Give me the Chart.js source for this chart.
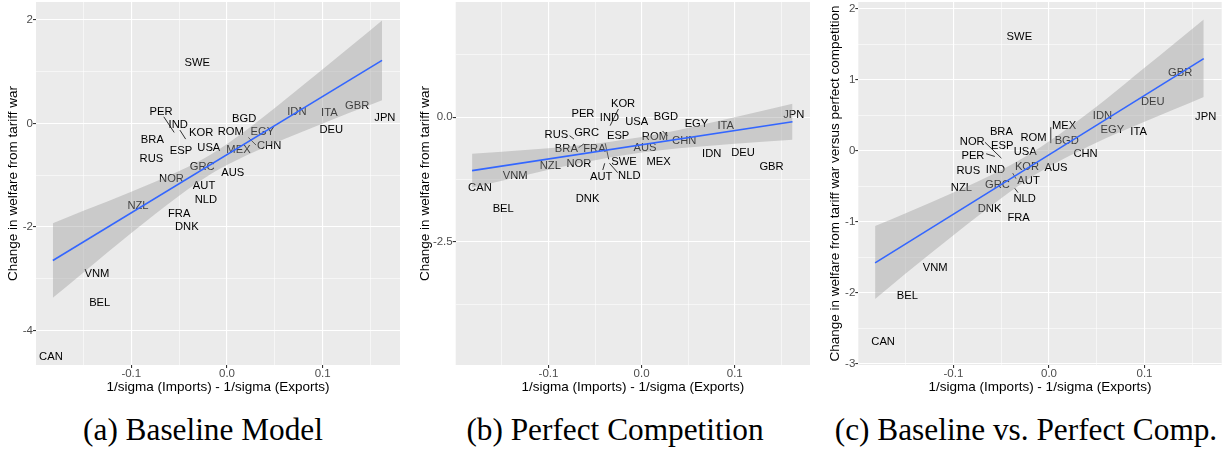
<!DOCTYPE html>
<html><head><meta charset="utf-8">
<script src="https://cdn.jsdelivr.net/npm/chart.js@4/dist/chart.umd.min.js"></script>
<style>
html,body{margin:0;padding:0;background:#fff;width:1231px;height:449px;overflow:hidden;}
.panel{position:absolute;top:0;height:400px;}
.cap{position:absolute;top:414px;font-family:'Liberation Serif','Times New Roman',serif;font-size:31.3px;line-height:31px;color:#000;white-space:nowrap;transform:translateX(-50%);}
</style></head><body>
<div class="panel" style="left:0;width:405px"><canvas id="cA"></canvas></div>
<div class="panel" style="left:410px;width:405px"><canvas id="cB"></canvas></div>
<div class="panel" style="left:815px;width:416px"><canvas id="cC"></canvas></div>
<div class="cap" style="left:203px">(a) Baseline Model</div>
<div class="cap" style="left:615px">(b) Perfect Competition</div>
<div class="cap" style="left:1026px">(c) Baseline vs. Perfect Comp.</div>
<script>
// ---------- data ----------
const countries = ["AUS","AUT","BEL","BGD","BRA","CAN","CHN","DEU","DNK","EGY","ESP","FRA","GBR","GRC","IDN","IND","ITA","JPN","KOR","MEX","NLD","NOR","NZL","PER","ROM","RUS","SWE","USA","VNM"];

// label positions (panel a: baseline)
const labelXA = [0.006,-0.024,-0.133,0.018,-0.078,-0.184,0.044,0.109,-0.042,0.037,-0.048,-0.050,0.136,-0.026,0.073,-0.051,0.107,0.165,-0.027,0.012,-0.022,-0.058,-0.093,-0.069,0.004,-0.079,-0.031,-0.019,-0.136];
const labelYA = [-0.947,-1.205,-3.478,0.097,-0.323,-4.516,-0.44,-0.124,-2.01,-0.168,-0.529,-1.747,0.34,-0.85,0.224,-0.03,0.20,0.108,-0.174,-0.516,-1.469,-1.076,-1.585,0.22,-0.168,-0.69,1.165,-0.47,-2.906];
// panel b: perfect competition
const labelXB = [0.0036,-0.0434,-0.1486,0.0261,-0.0808,-0.1736,0.0457,0.1088,-0.058,0.0589,-0.0252,-0.0506,0.1395,-0.0591,0.0753,-0.0345,0.0903,0.1633,-0.0199,0.0182,-0.0132,-0.0674,-0.098,-0.063,0.0143,-0.0915,-0.0188,-0.0053,-0.1358];
const labelYB = [-0.609,-1.203,-1.844,0.0,-0.642,-1.423,-0.469,-0.716,-1.639,-0.14,-0.368,-0.642,-1.002,-0.32,-0.73,-0.02,-0.174,0.04,0.26,-0.896,-1.177,-0.936,-0.97,0.06,-0.389,-0.355,-0.89,-0.094,-1.183];
// panel c: baseline vs perfect competition
const labelXC = [0.0074,-0.0214,-0.1483,0.0186,-0.0498,-0.1736,0.0383,0.1087,-0.0622,0.0664,-0.049,-0.0318,0.1374,-0.054,0.056,-0.056,0.0938,0.164,-0.023,0.0158,-0.0255,-0.0803,-0.0917,-0.0796,-0.0162,-0.0844,-0.031,-0.0248,-0.1191];
const labelYC = [-0.239,-0.428,-2.05,0.141,0.272,-2.693,-0.048,0.694,-0.816,0.30,0.065,-0.943,1.102,-0.488,0.497,-0.263,0.262,0.483,-0.23,0.356,-0.675,0.131,-0.521,-0.066,0.177,-0.287,1.611,-0.02,-1.646];

// label leader segments [x1, y1, x2, y2]
const leadersA = [[-0.066,0.128,-0.0552,-0.174],[-0.0492,-0.129,-0.0432,-0.303],[0.0223,-0.271,0.0304,-0.419]];
const leadersB = [[-0.0249,0.166,-0.0338,-0.168],[-0.0773,-0.369,-0.0727,-0.435],[-0.0677,-0.609,-0.062,-0.535],[-0.0391,-0.521,-0.0353,-0.842],[-0.0396,-0.922,-0.0417,-1.056],[-0.0345,-0.922,-0.0257,-1.110],[0.0225,-0.275,0.0278,-0.375]];
const leadersC = [[-0.0671,0.121,-0.0498,-0.104],[-0.0657,-0.042,-0.0567,-0.080],[-0.038,-0.315,-0.0345,-0.394],[-0.0359,-0.528,-0.0324,-0.59],[0.0019,0.332,0.0019,0.107]];

// linear fit and confidence band
const fitX = [-0.182, 0.162];
const fitYA = [-2.65, 1.22];
const fitYB = [-1.07, -0.09];
const fitYC = [-1.58, 1.30];
const bandX = [-0.182,-0.15,-0.1,-0.05,-0.016,0.02,0.06,0.1,0.13,0.162];
const bandUpperA = [-1.93,-1.69,-1.32,-0.92,-0.59,-0.13,0.45,1.05,1.50,1.99];
const bandLowerA = [-3.37,-2.88,-2.12,-1.40,-0.97,-0.62,-0.30,0.00,0.22,0.45];
const bandUpperB = [-0.73,-0.69,-0.62,-0.53,-0.44,-0.33,-0.17,0.00,0.13,0.27];
const bandLowerB = [-1.41,-1.27,-1.05,-0.86,-0.75,-0.66,-0.59,-0.53,-0.49,-0.45];
const bandUpperC = [-1.06,-0.88,-0.59,-0.27,-0.01,0.32,0.73,1.17,1.50,1.85];
const bandLowerC = [-2.09,-1.73,-1.19,-0.67,-0.35,-0.08,0.18,0.41,0.58,0.76];

// ticks
const xTickValues = [-0.15,-0.1,-0.05,0,0.05,0.1,0.15];
const xTickLabels = ['','-0.1','','0.0','','0.1',''];
const yTickValuesA = [-4,-3,-2,-1,0,1,2];
const yTickLabelsA = ['-4','','-2','','0','','2'];
const yTickValuesB = [-3.75,-2.5,-1.25,0,1.25];
const yTickLabelsB = ['','-2.5','','0.0',''];
const yTickValuesC = [-3,-2.5,-2,-1.5,-1,-0.5,0,0.5,1,1.5,2];
const yTickLabelsC = ['-3','','-2','','-1','','0','','1','','2'];

const xRange = [-0.1996, 0.1808];
const yRangeA = [-4.67, 2.348];
const yRangeB = [-4.966, 2.311];
const yRangeC = [-3.021, 2.098];

// ---------- drawing ----------
const SANS = '"Liberation Sans", Arial, sans-serif';
const pts = (xs, ys) => xs.map((x, i) => ({x: x, y: ys[i]}));

function makePanel(id, p) {
  const bg = { id: 'bg', beforeDraw(chart) {
    const a = chart.chartArea, ctx = chart.ctx;
    ctx.save(); ctx.fillStyle = '#EBEBEB';
    ctx.fillRect(a.left, a.top, a.right - a.left, a.bottom - a.top); ctx.restore();
  }};
  const txt = { id: 'txt', beforeDatasetsDraw(chart) {
    const a = chart.chartArea, ctx = chart.ctx, xs = chart.scales.x, ys = chart.scales.y;
    ctx.save();
    ctx.beginPath(); ctx.rect(a.left, a.top, a.right - a.left, a.bottom - a.top); ctx.clip();
    ctx.strokeStyle = '#000'; ctx.lineWidth = 0.8;
    p.leaders.forEach(s => {
      ctx.beginPath();
      ctx.moveTo(xs.getPixelForValue(s[0]), ys.getPixelForValue(s[1]));
      ctx.lineTo(xs.getPixelForValue(s[2]), ys.getPixelForValue(s[3]));
      ctx.stroke();
    });
    const meta = chart.getDatasetMeta(3);
    ctx.font = '11.2px ' + SANS; ctx.fillStyle = '#000';
    ctx.textAlign = 'center'; ctx.textBaseline = 'middle';
    meta.data.forEach((el, i) => ctx.fillText(countries[i], el.x, el.y));
    ctx.restore();
  }};
  const gridW = labels => c => labels[c.index] ? 1.1 : 0.55;
  const tickC = labels => c => labels[c.index] ? '#333333' : 'rgba(0,0,0,0)';
  return new Chart(document.getElementById(id), {
    type: 'scatter',
    data: { datasets: [
      { data: pts(fitX, p.fitY), showLine: true, borderColor: '#3366FF', borderWidth: 1.6, pointRadius: 0, fill: false },
      { data: pts(bandX, p.upper), showLine: true, borderColor: 'rgba(0,0,0,0)', borderWidth: 0, pointRadius: 0, cubicInterpolationMode: 'monotone', fill: '+1', backgroundColor: 'rgba(153,153,153,0.4)' },
      { data: pts(bandX, p.lower), showLine: true, borderColor: 'rgba(0,0,0,0)', borderWidth: 0, pointRadius: 0, cubicInterpolationMode: 'monotone', fill: false },
      { data: pts(p.lx, p.ly), showLine: false, pointRadius: 0, pointHoverRadius: 0 }
    ]},
    options: {
      responsive: true, maintainAspectRatio: false, animation: false, events: [],
      devicePixelRatio: 1,
      layout: { padding: { left: 0, top: 2, right: p.padRight, bottom: 0 } },
      plugins: { legend: { display: false }, tooltip: { enabled: false } },
      scales: {
        x: {
          type: 'linear', min: xRange[0], max: xRange[1],
          afterBuildTicks: ax => { ax.ticks = xTickValues.map(v => ({ value: v })); },
          afterFit: s => { s.height = 35; s.paddingLeft = 0; s.paddingRight = 0; },
          border: { display: false },
          grid: { color: '#FFFFFF', lineWidth: gridW(xTickLabels), tickColor: tickC(xTickLabels), tickLength: 3 },
          ticks: { autoSkip: false, maxRotation: 0, padding: -1, color: '#4D4D4D', font: { family: SANS, size: 11.5 },
                   callback: (v, i) => xTickLabels[i] },
          title: { display: true, text: '1/sigma (Imports) - 1/sigma (Exports)', color: '#000', font: { family: SANS, size: 13.5 }, padding: { top: 0, bottom: 4.5 } }
        },
        y: {
          type: 'linear', min: p.yRange[0], max: p.yRange[1],
          afterBuildTicks: ax => { ax.ticks = p.yTicks.map(v => ({ value: v })); },
          afterFit: s => { s.width = p.yWidth; s.paddingTop = 0; s.paddingBottom = 0; },
          border: { display: false },
          grid: { color: '#FFFFFF', lineWidth: gridW(p.yLabels), tickColor: tickC(p.yLabels), tickLength: 3 },
          ticks: { autoSkip: false, padding: 0, color: '#4D4D4D', font: { family: SANS, size: 11.5 },
                   callback: (v, i) => p.yLabels[i] },
          title: { display: true, text: p.yTitle, color: '#000', font: { family: SANS, size: 13.5 }, padding: { top: p.yTitlePad, bottom: 0 } }
        }
      }
    },
    plugins: [bg, txt]
  });
}

makePanel('cA', { lx: labelXA, ly: labelYA, leaders: leadersA, fitY: fitYA, upper: bandUpperA, lower: bandLowerA,
  yRange: yRangeA, yTicks: yTickValuesA, yLabels: yTickLabelsA, yWidth: 36, padRight: 5, yTitlePad: 5,
  yTitle: 'Change in welfare from tariff war' });
makePanel('cB', { lx: labelXB, ly: labelYB, leaders: leadersB, fitY: fitYB, upper: bandUpperB, lower: bandLowerB,
  yRange: yRangeB, yTicks: yTickValuesB, yLabels: yTickLabelsB, yWidth: 45.7, padRight: 5, yTitlePad: 7,
  yTitle: 'Change in welfare from tariff war' });
makePanel('cC', { lx: labelXC, ly: labelYC, leaders: leadersC, fitY: fitYC, upper: bandUpperC, lower: bandLowerC,
  yRange: yRangeC, yTicks: yTickValuesC, yLabels: yTickLabelsC, yWidth: 43.3, padRight: 9.3, yTitlePad: 12,
  yTitle: 'Change in welfare from tariff war versus perfect competition' });
</script>
</body></html>
